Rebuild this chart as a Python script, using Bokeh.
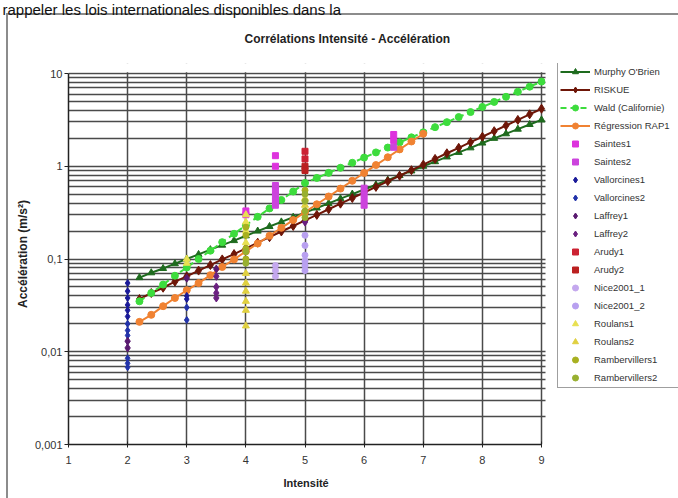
from bokeh.plotting import figure
from bokeh.models import (Legend, LegendItem, FixedTicker, Title, BoxAnnotation,
                          CustomJSTickFormatter)
from bokeh.embed import file_html
from bokeh.resources import INLINE

# ---------------- data ----------------
intens = [2.2, 2.4, 2.6, 2.8, 3.0, 3.2, 3.4, 3.6, 3.8, 4.0, 4.2, 4.4, 4.6, 4.8,
          5.0, 5.2, 5.4, 5.6, 5.8, 6.0, 6.2, 6.4, 6.6, 6.8, 7.0, 7.2, 7.4, 7.6,
          7.8, 8.0, 8.2, 8.4, 8.6, 8.8, 9.0]
murphy = [0.063, 0.071, 0.079, 0.089, 0.100, 0.112, 0.126, 0.141, 0.158, 0.178,
          0.200, 0.224, 0.251, 0.282, 0.316, 0.355, 0.398, 0.447, 0.501, 0.562,
          0.631, 0.708, 0.794, 0.891, 1.00, 1.12, 1.26, 1.41, 1.58, 1.78, 2.00,
          2.24, 2.51, 2.82, 3.16]
riskue = [0.037, 0.043, 0.049, 0.057, 0.065, 0.075, 0.086, 0.099, 0.113, 0.130,
          0.150, 0.172, 0.198, 0.227, 0.261, 0.299, 0.344, 0.395, 0.454, 0.521,
          0.599, 0.688, 0.790, 0.907, 1.04, 1.20, 1.38, 1.58, 1.82, 2.08, 2.39,
          2.75, 3.16, 3.63, 4.17]
wald = [0.035, 0.043, 0.053, 0.066, 0.081, 0.100, 0.123, 0.152, 0.187, 0.231,
        0.285, 0.351, 0.433, 0.534, 0.660, 0.749, 0.849, 0.963, 1.09, 1.24,
        1.41, 1.59, 1.81, 2.05, 2.32, 2.64, 2.99, 3.39, 3.84, 4.36, 4.94, 5.61,
        6.36, 7.21, 8.18]
rap1_x = [2.2, 2.4, 2.6, 2.8, 3.0, 3.2, 3.4, 3.6, 3.8, 4.0, 4.2, 4.4, 4.6, 4.8,
          5.0, 5.2, 5.4, 5.6, 5.8, 6.0, 6.2, 6.4, 6.6, 6.8, 7.0]
rap1 = [0.021, 0.025, 0.031, 0.038, 0.046, 0.055, 0.067, 0.082, 0.099, 0.121,
        0.147, 0.178, 0.217, 0.263, 0.320, 0.389, 0.472, 0.574, 0.697, 0.847,
        1.03, 1.25, 1.52, 1.85, 2.24]

saintes1_x = [4, 4, 4.5, 4.5, 6.5, 6.5]
saintes1_y = [0.33, 0.30, 1.3, 1.0, 2.2, 1.9]
saintes2_x = [4.5, 4.5, 4.5, 4.5, 4.5, 6, 6, 6, 6, 6.5]
saintes2_y = [0.62, 0.55, 0.48, 0.42, 0.38, 0.58, 0.50, 0.43, 0.38, 1.6]
vallorcines1_x = [2, 2, 2, 2, 2, 2, 3, 3]
vallorcines1_y = [0.055, 0.045, 0.038, 0.032, 0.028, 0.024, 0.040, 0.037]
vallorcines2_x = [2, 2, 2, 2, 2, 2, 3, 3]
vallorcines2_y = [0.020, 0.017, 0.015, 0.0085, 0.0075, 0.0068, 0.030, 0.022]
laffrey1_x = [2, 2, 3, 3.5]
laffrey1_y = [0.013, 0.011, 0.062, 0.078]
laffrey2_x = [3.5, 3.5, 3.5, 3.5, 5]
laffrey2_y = [0.065, 0.050, 0.043, 0.038, 0.25]
arudy1_x = [5, 5]
arudy1_y = [1.45, 1.2]
arudy2_x = [5, 5]
arudy2_y = [1.0, 0.9]
nice1_x = [4.5, 4.5, 4.5]
nice1_y = [0.085, 0.075, 0.065]
nice2_x = [5, 5, 5, 5, 5, 5]
nice2_y = [0.18, 0.14, 0.11, 0.095, 0.085, 0.075]
roulans1_x = [3, 3, 4, 4, 4, 4]
roulans1_y = [0.10, 0.09, 0.30, 0.25, 0.20, 0.15]
roulans2_x = [4, 4, 4, 4, 4, 4, 5, 5]
roulans2_y = [0.070, 0.055, 0.045, 0.035, 0.028, 0.019, 0.45, 0.38]
ramb1_x = [4, 4, 4, 4, 5]
ramb1_y = [0.22, 0.18, 0.13, 0.10, 0.55]
ramb2_x = [4, 4, 5, 5, 5, 5]
ramb2_y = [0.12, 0.09, 0.50, 0.42, 0.33, 0.28]

y_ticks = [0.001, 0.01, 0.1, 1, 10]
x_ticks = [1, 2, 3, 4, 5, 6, 7, 8, 9]

FONT = "Liberation Sans"
GRID = "#4a4a4a"
BORDER = "#8c8c8c"

chart_area_css = {
    "background-color": "white",
    "background-image": f"linear-gradient({BORDER},{BORDER}), linear-gradient({BORDER},{BORDER})",
    "background-size": "2px 490px, 680px 2px",
    "background-position": "6px 13px, 6px 13px",
    "background-repeat": "no-repeat",
}

# Frame spans the plot area plus the legend column (68..678 px wide, 63..444 px
# high) so the legend is not clipped; the scale stays 1..9 over 68..541 px and
# 0.001..10 over 444..73 px.
px_per_unit = (541 - 68) / 8
px_per_decade = (444 - 73) / 4
x_end = 1 + (678 - 68) / px_per_unit
y_end = 10 ** (1 + (73 - 63) / px_per_decade)

p = figure(width=678, height=498, x_range=(1, x_end), y_range=(0.001, y_end),
           y_axis_type="log", output_backend="svg", toolbar_location=None,
           min_border_left=68, min_border_right=0, min_border_top=63,
           min_border_bottom=54, background_fill_color="white",
           border_fill_color=None, styles=chart_area_css)
p.outline_line_color = None

# page text (outermost) and chart title
p.title.text = "rappeler les lois internationales disponibles dans la"
p.title.align = "left"
p.title.offset = -66
p.title.text_font = FONT
p.title.text_font_size = "15px"
p.title.text_font_style = "normal"
p.title.text_color = "#111111"
p.title.standoff = -4

chart_title = Title(text="Corrélations Intensité - Accélération", align="left",
                    offset=176, vertical_align="top", text_font=FONT,
                    text_font_size="12px", text_font_style="bold",
                    text_color="#222222", standoff=32)
p.add_layout(chart_title, "above")

x_title = Title(text="Intensité", align="left", offset=215, text_font=FONT,
                text_font_size="11px", text_font_style="bold",
                text_color="#222222", standoff=16)
p.add_layout(x_title, "below")

minor = [k * 10.0 ** e for e in (-3, -2, -1, 0) for k in range(2, 10)]
p.yaxis.ticker = FixedTicker(ticks=y_ticks, minor_ticks=minor)
p.yaxis.formatter = CustomJSTickFormatter(code="return tick.toString().replace('.', ',');")
p.yaxis.bounds = (0.001, 10)
p.xaxis.ticker = FixedTicker(ticks=x_ticks)
p.xaxis.bounds = (1, 9)
p.ygrid.grid_line_color = GRID
p.ygrid.grid_line_width = 1.5
p.ygrid.minor_grid_line_color = GRID
p.ygrid.minor_grid_line_width = 1.5
p.xgrid.grid_line_color = GRID
p.xgrid.grid_line_width = 1.5

for ax in (p.xaxis[0], p.yaxis[0]):
    ax.axis_line_color = "#222222"
    ax.axis_line_width = 1.5
    ax.major_tick_line_color = "#222222"
    ax.major_label_text_font = FONT
    ax.major_label_text_font_size = "11px"
    ax.major_label_text_color = "#333333"
    ax.axis_label_text_font = FONT
    ax.axis_label_text_font_size = "12px"
    ax.axis_label_text_font_style = "bold"
    ax.axis_label_text_color = "#222222"
p.yaxis.minor_tick_line_color = None
p.yaxis.major_tick_out = 4
p.yaxis.major_tick_in = 0
p.yaxis.major_label_standoff = 2
p.xaxis.minor_tick_line_color = None
p.xaxis.major_tick_out = 3
p.xaxis.major_tick_in = 3
p.xaxis.major_label_standoff = 8
p.yaxis.axis_label = "Accélération (m/s²)"
p.yaxis.axis_label_standoff = 2

# curves
c_murphy, c_risk, c_wald, c_rap = "#1e6b1e", "#6e1608", "#3ddc3d", "#f08232"
l1 = p.line(intens, murphy, line_color=c_murphy, line_width=2)
m1 = p.scatter(intens, murphy, marker="triangle", size=7, fill_color=c_murphy, line_color=c_murphy)
l2 = p.line(intens, riskue, line_color=c_risk, line_width=2)
m2 = p.scatter(intens, riskue, marker="diamond", size=9, fill_color=c_risk, line_color=c_risk)
l3 = p.line(intens, wald, line_color=c_wald, line_width=2, line_dash="6 4")
m3 = p.scatter(intens, wald, marker="circle", size=7, fill_color=c_wald, line_color=c_wald)
l4 = p.line(rap1_x, rap1, line_color=c_rap, line_width=2)
m4 = p.scatter(rap1_x, rap1, marker="circle", size=7, fill_color=c_rap, line_color=c_rap)

pts = [
    ("Saintes1", saintes1_x, saintes1_y, "square", 6, "#dd33dd"),
    ("Saintes2", saintes2_x, saintes2_y, "square", 6, "#cc44dd"),
    ("Vallorcines1", vallorcines1_x, vallorcines1_y, "diamond", 7, "#1a1a99"),
    ("Vallorcines2", vallorcines2_x, vallorcines2_y, "diamond", 7, "#2233aa"),
    ("Laffrey1", laffrey1_x, laffrey1_y, "diamond", 8, "#5a1a70"),
    ("Laffrey2", laffrey2_x, laffrey2_y, "diamond", 8, "#6a2080"),
    ("Arudy1", arudy1_x, arudy1_y, "square", 6, "#cc2233"),
    ("Arudy2", arudy2_x, arudy2_y, "square", 6, "#bb2020"),
    ("Nice2001_1", nice1_x, nice1_y, "circle", 6, "#c4a8ee"),
    ("Nice2001_2", nice2_x, nice2_y, "circle", 6, "#b8a0f0"),
    ("Roulans1", roulans1_x, roulans1_y, "triangle", 7, "#e8e050"),
    ("Roulans2", roulans2_x, roulans2_y, "triangle", 7, "#e0d040"),
    ("Rambervillers1", ramb1_x, ramb1_y, "circle", 6, "#a8b020"),
    ("Rambervillers2", ramb2_x, ramb2_y, "circle", 6, "#98b030"),
]
items = [
    LegendItem(label="Murphy O'Brien", renderers=[l1, m1]),
    LegendItem(label="RISKUE", renderers=[l2, m2]),
    LegendItem(label="Wald (Californie)", renderers=[l3, m3]),
    LegendItem(label="Régression RAP1", renderers=[l4, m4]),
]
for name, xs, ys, mk, sz, col in pts:
    r = p.scatter(xs, ys, marker=mk, size=sz, fill_color=col, line_color=col)
    items.append(LegendItem(label=name, renderers=[r]))

# white masks: the legend column right of x = 9 and the strip above y = 10
p.add_layout(BoxAnnotation(left=9 + 4 / px_per_unit, right=x_end + 1,
                           bottom=1e-4, top=1e3, fill_color="white",
                           fill_alpha=1, line_color=None))
p.add_layout(BoxAnnotation(left=0, right=x_end + 1,
                           bottom=10 ** (1 + 1.2 / px_per_decade), top=1e3,
                           fill_color="white", fill_alpha=1, line_color=None))

legend = Legend(items=items, location=(489, 56), orientation="vertical",
                glyph_width=30, glyph_height=15, label_height=15, spacing=3,
                padding=2, margin=0, label_standoff=4, label_width=110,
                label_text_font=FONT, label_text_font_size="9.5px",
                label_text_color="#333333", border_line_color="#404040",
                border_line_width=1, background_fill_color="white",
                background_fill_alpha=1)
p.add_layout(legend)

open("out.html", "w").write(file_html(p, INLINE))
